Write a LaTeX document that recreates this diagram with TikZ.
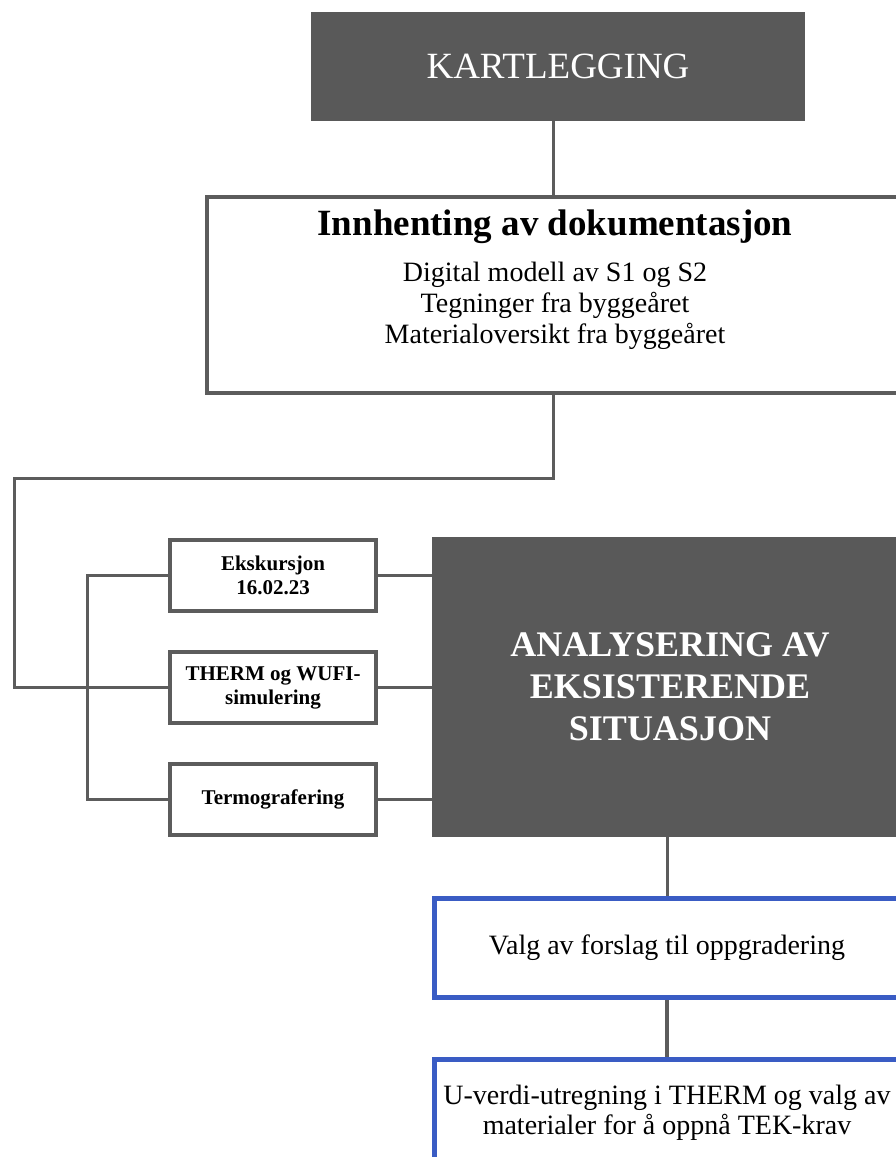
\documentclass[tikz,border=0pt]{standalone}
\usepackage{fontspec}
\setmainfont{Liberation Serif}
\definecolor{dgrey}{RGB}{89,89,89}
\definecolor{lgrey}{RGB}{92,92,92}
\definecolor{bblue}{RGB}{58,92,196}
\begin{document}
\begin{tikzpicture}[x=1pt,y=-1pt,
  darkbox/.style={fill=dgrey, draw=none, text=white, inner sep=0pt, align=center},
  plainbox/.style={draw=lgrey, fill=white, line width=3.5pt, inner sep=0pt},
  smallbox/.style={draw=lgrey, fill=white, line width=4pt, minimum width=206.5pt, minimum height=71pt, align=center, inner sep=0pt, font=\bfseries\fontsize{21}{24}\selectfont},
  bluebox/.style={draw=bblue, fill=white, line width=5pt, minimum width=465pt, align=center, inner sep=0pt, font=\fontsize{28}{30.5}\selectfont},
  conn/.style={draw=lgrey, line width=3pt},
  boxtext/.style={inner sep=0pt, align=center}]
\clip (0,0) rectangle (896,1157);
\useasboundingbox (0,0) rectangle (896,1157);

% nodes
\node[darkbox, minimum width=494pt, minimum height=109pt, font=\fontsize{37}{44}\selectfont] (kart) at (558,66.5) {KARTLEGGING};

\node[plainbox, minimum width=696pt, minimum height=196pt] (innh) at (555,295) {};
\node[boxtext, anchor=base, font=\bfseries\fontsize{37}{44}\selectfont] (innhhead) at (555,235) {Innhenting av dokumentasjon};
\node[boxtext, anchor=base, font=\fontsize{28}{31}\selectfont] (innhlist) at (555,343) {Digital modell av S1 og S2\\Tegninger fra byggeåret\\Materialoversikt fra byggeåret};

\node[smallbox] (eks) at (273,575.3) {Ekskursjon\\16.02.23};
\node[smallbox] (therm) at (273,687.5) {THERM og WUFI-\\simulering};
\node[smallbox] (term) at (273,799) {Termografering};

\node[darkbox, minimum width=470pt, minimum height=300pt, font=\bfseries\fontsize{36}{42}\selectfont] (ana) at (667,687) {\hspace*{6pt}ANALYSERING AV\\\hspace*{6pt}EKSISTERENDE\\\hspace*{6pt}SITUASJON};

\node[bluebox, minimum height=98.5pt] (valg) at (667,948) {Valg av forslag til oppgradering};
\node[bluebox, minimum height=107pt] (uverdi) at (667,1113) {U-verdi-utregning i THERM og valg av\\materialer for å oppnå TEK-krav};

% connectors
\coordinate (bend) at (14,478);
\coordinate (bus) at (87,575.3);
\draw[conn] ([xshift=-2pt]innh.north) -- ([xshift=-2pt]innh.north |- kart.south);
\draw[conn] ([xshift=-2pt]innh.south) |- (bend) |- (therm.west);
\draw[conn] (eks.west) -- (bus) |- (term.west);
\draw[conn] (eks.east) -- (eks.east -| ana.west);
\draw[conn] (therm.east) -- (therm.east -| ana.west);
\draw[conn] (term.east) -- (term.east -| ana.west);
\draw[conn] (ana.south) -- (valg.north);
\draw[conn, line width=4pt] (valg.south) -- (uverdi.north);
\end{tikzpicture}
\end{document}
